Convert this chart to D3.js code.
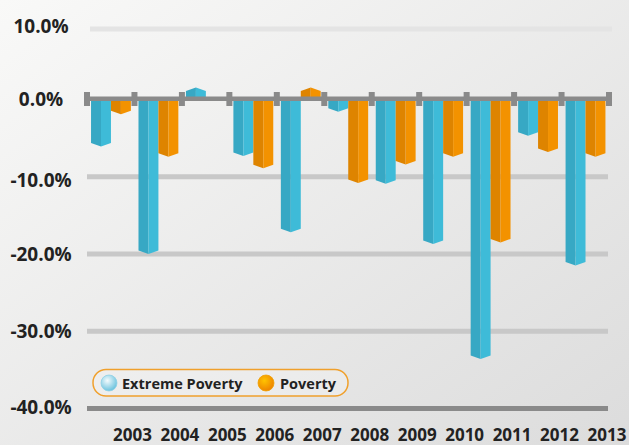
<!DOCTYPE html>
<html><head><meta charset="utf-8">
<script src="https://cdn.jsdelivr.net/npm/d3@7"></script>
<style>
html,body{margin:0;padding:0;background:#eee;}
svg{display:block;font-family:"Open Sans","Noto Sans",sans-serif;}
</style></head>
<body>
<svg id="chart" width="629" height="445"></svg>
<script>
const years = ["2003","2004","2005","2006","2007","2008","2009","2010","2011","2012","2013"];
const seriesNames = ["Extreme Poverty","Poverty"];
const extremePoverty = [-6.1,-20.0,1.7,-7.3,-17.2,-1.6,-10.9,-18.7,-33.6,-4.7,-21.5];
const poverty = [-1.9,-7.4,0,-8.9,1.7,-10.8,-8.4,-7.4,-18.5,-6.8,-7.4];
const yTicks = [10,0,-10,-20,-30,-40];
const yTickLabels = ["10.0%","0.0%","-10.0%","-20.0%","-30.0%","-40.0%"];

const svg = d3.select("#chart");
const W = 629, H = 445;
const defs = svg.append("defs");
const bg = defs.append("linearGradient").attr("id","bg").attr("x1","0").attr("y1","0").attr("x2","1").attr("y2","1");
bg.append("stop").attr("offset","0").attr("stop-color","#f9f9f8");
bg.append("stop").attr("offset","1").attr("stop-color","#dcdcdc");
const gBlue = defs.append("radialGradient").attr("id","gBlue").attr("cx","0.4").attr("cy","0.35").attr("r","0.65");
gBlue.append("stop").attr("offset","0").attr("stop-color","#f4fbfd");
gBlue.append("stop").attr("offset","1").attr("stop-color","#6cc3de");
const gOr = defs.append("radialGradient").attr("id","gOr").attr("cx","0.4").attr("cy","0.35").attr("r","0.65");
gOr.append("stop").attr("offset","0").attr("stop-color","#ffc300");
gOr.append("stop").attr("offset","1").attr("stop-color","#ee8400");

svg.append("rect").attr("width",W).attr("height",H).attr("fill","url(#bg)");

const y = d3.scaleLinear().domain([-40,0,10]).range([408.5,99.5,29]);
const x = d3.scaleBand().domain(years).range([87,609]).padding(0);
const bw = x.bandwidth();
const xs = d3.scaleBand().domain(seriesNames).range([bw*0.085, bw*0.925]).padding(0);

// gridlines
const gridColor = v => v===10 ? "#e4e4e4" : (v===-40 ? "#8a8a8a" : "#c8c8c8");
svg.append("g").selectAll("rect").data(yTicks.filter(v=>v!==0)).join("rect")
  .attr("x", d=> d===10 ? 90 : 87)
  .attr("width", d=> d===10 ? 522 : 521)
  .attr("y", d=>y(d)-2.5).attr("height",5)
  .attr("fill", gridColor);

// y labels
const labelShift = d => d===10 ? 4 : (d===-10 ? 10 : (d===-40 ? 5.5 : 6.5));
svg.append("g").selectAll("text").data(yTicks).join("text")
  .attr("x",41).attr("y",d=>y(d)+labelShift(d))
  .attr("text-anchor","middle").attr("font-size",19).attr("font-weight",700)
  .attr("fill","#222").text((d,i)=>yTickLabels[i]);

// bars
const colors = {
  "Extreme Poverty": ["#37a8c4","#3ebbd8"],
  "Poverty": ["#de8400","#f39200"]
};
const data = [];
years.forEach((yr,i)=>{
  data.push({year:yr, s:"Extreme Poverty", v:extremePoverty[i]});
  data.push({year:yr, s:"Poverty", v:poverty[i]});
});
const tip = 3.5;
function barPath(d, half){
  const x0 = x(d.year)+xs(d.s), w = xs.bandwidth();
  const xm = x0 + w/2;
  const y0 = y(0), y1 = y(d.v);
  const dir = d.v < 0 ? 1 : -1;
  const ys = y1 - dir*tip;
  if(half===0) return `M${x0},${y0}L${xm},${y0}L${xm},${y1}L${x0},${ys}Z`;
  return `M${xm},${y0}L${x0+w},${y0}L${x0+w},${ys}L${xm},${y1}Z`;
}
const bars = svg.append("g").selectAll("g").data(data.filter(d=>d.v!==0)).join("g");
bars.append("path").attr("d",d=>barPath(d,0)).attr("fill",d=>colors[d.s][0]);
bars.append("path").attr("d",d=>barPath(d,1)).attr("fill",d=>colors[d.s][1]);

// zero axis
svg.append("rect").attr("x",85).attr("width",527).attr("y",y(0)-3).attr("height",4.5).attr("fill","#8a8a8a");
const tickPos = [x.range()[0]].concat(years.map(d=>x(d)+bw));
svg.append("g").selectAll("rect").data(tickPos).join("rect")
  .attr("x",d=>d-3).attr("width",6).attr("y",y(0)-7.5).attr("height",14).attr("fill","#8a8a8a");

// x labels
svg.append("g").selectAll("text").data(years).join("text")
  .attr("x",d=>x(d)+bw-2).attr("y",441).attr("text-anchor","middle")
  .attr("font-size",17).attr("font-weight",700).attr("fill","#222").text(d=>d);

// legend
const lg = svg.append("g");
lg.append("rect").attr("x",93).attr("y",369.5).attr("width",255).attr("height",26.5).attr("rx",13)
  .attr("fill","#f1f1f1").attr("fill-opacity",0.5).attr("stroke","#f0a02c").attr("stroke-width",1.5);
const legItems = [{n:"Extreme Poverty", cx:109, tx:122, g:"url(#gBlue)", st:"#8fd0e6"},{n:"Poverty", cx:266, tx:280, g:"url(#gOr)", st:"#f0a000"}];
legItems.forEach(it=>{
  lg.append("circle").attr("cx",it.cx).attr("cy",383).attr("r",8).attr("fill",it.g).attr("stroke",it.st).attr("stroke-width",0.8);
  lg.append("text").attr("x",it.tx).attr("y",388.5).attr("font-size",14.5).attr("font-weight",700).attr("fill","#222").text(it.n);
});
</script>
</body></html>
